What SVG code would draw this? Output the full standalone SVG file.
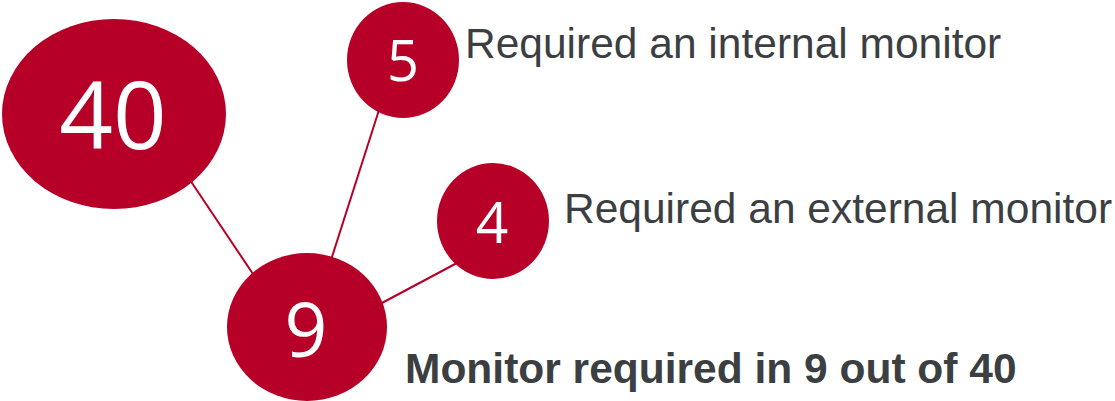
<svg xmlns="http://www.w3.org/2000/svg" width="1115" height="401" viewBox="0 0 1115 401">
<style>
.node{fill:#B70027}
.num{fill:#FFFFFF;font-family:"Open Sans","Liberation Sans",sans-serif;text-anchor:middle}
.lbl{fill:#3C3F42;font-family:"Liberation Sans",Arial,sans-serif;font-size:42.5px}
.edge{stroke:#B70027;stroke-width:2;fill:none}
</style>
<rect width="1115" height="401" fill="#FFFFFF"/>
<g id="connectors">
<line class="edge" x1="190" y1="180" x2="253" y2="274"/>
<line class="edge" x1="379" y1="110" x2="331" y2="260"/>
<line class="edge" x1="457" y1="263" x2="380" y2="304"/>
</g>
<g id="node-40">
<ellipse class="node" cx="114" cy="114" rx="112" ry="95"/>
<text class="num" x="113" y="149" font-size="94">40</text>
</g>
<g id="node-5">
<ellipse class="node" cx="403" cy="60" rx="56" ry="58"/>
<text class="num" x="403" y="81" font-size="56">5</text>
</g>
<g id="node-4">
<ellipse class="node" cx="493" cy="221" rx="56" ry="58"/>
<text class="num" x="492" y="243" font-size="57">4</text>
</g>
<g id="node-9">
<ellipse class="node" cx="307" cy="327" rx="80" ry="74"/>
<text class="num" x="306" y="357" font-size="75">9</text>
</g>
<g id="labels">
<text class="lbl" x="465" y="58">Required an internal monitor</text>
<text class="lbl" x="564" y="223">Required an external monitor</text>
<text class="lbl" x="405" y="383" font-size="43" font-weight="bold">Monitor required in 9 out of 40</text>
</g>
</svg>
